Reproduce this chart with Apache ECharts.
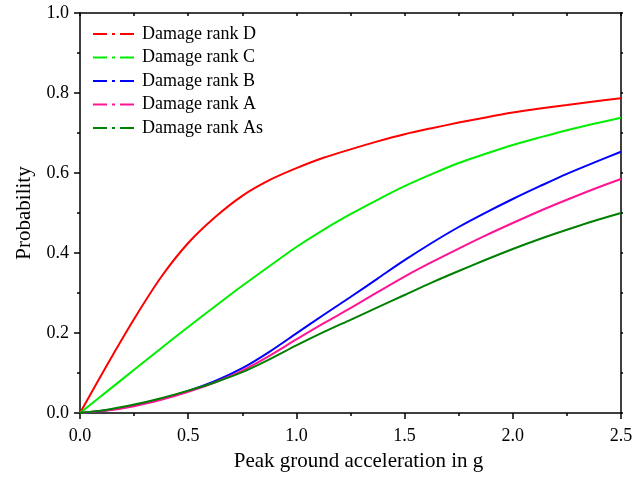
<!DOCTYPE html>
<html>
<head>
<meta charset="utf-8">
<script src="https://cdn.jsdelivr.net/npm/echarts@6/dist/echarts.min.js"></script>
<style>html,body{margin:0;padding:0;background:#fff;}#c{width:644px;height:477px;}</style>
</head>
<body>
<div id="c"></div>
<script>
var xValues = [0, 0.125, 0.25, 0.375, 0.5, 0.625, 0.75, 0.875, 1.0, 1.125, 1.25, 1.375, 1.5, 1.625, 1.75, 1.875, 2.0, 2.125, 2.25, 2.375, 2.5];
var seriesNames = ['Damage rank D', 'Damage rank C', 'Damage rank B', 'Damage rank A', 'Damage rank As'];
var rankD  = [0, 0.12, 0.235, 0.34, 0.425, 0.49, 0.543, 0.582, 0.612, 0.638, 0.659, 0.679, 0.697, 0.712, 0.726, 0.739, 0.751, 0.761, 0.77, 0.779, 0.787];
var rankC  = [0, 0.054, 0.108, 0.162, 0.215, 0.267, 0.318, 0.367, 0.415, 0.458, 0.497, 0.533, 0.567, 0.597, 0.625, 0.648, 0.67, 0.689, 0.707, 0.723, 0.738];
var rankB  = [0, 0.007, 0.019, 0.035, 0.055, 0.08, 0.112, 0.153, 0.199, 0.245, 0.29, 0.336, 0.382, 0.425, 0.465, 0.501, 0.535, 0.567, 0.598, 0.626, 0.653];
var rankA  = [0, 0.006, 0.017, 0.033, 0.053, 0.077, 0.106, 0.143, 0.184, 0.224, 0.262, 0.302, 0.341, 0.377, 0.411, 0.444, 0.475, 0.505, 0.533, 0.56, 0.585];
var rankAs = [0, 0.008, 0.021, 0.037, 0.056, 0.077, 0.102, 0.134, 0.169, 0.202, 0.233, 0.264, 0.295, 0.326, 0.355, 0.383, 0.41, 0.435, 0.458, 0.48, 0.5];
var colors = ['#ff0000', '#00ee00', '#0000ff', '#ff1493', '#008000'];
var allData = [rankD, rankC, rankB, rankA, rankAs];

var font = 'Liberation Serif';
var chart = echarts.init(document.getElementById('c'));
var series = allData.map(function (vals, i) {
  return {
    name: seriesNames[i],
    type: 'line',
    xAxisIndex: 0, yAxisIndex: 0,
    data: xValues.map(function (x, j) { return [x, vals[j]]; }),
    smooth: 0.3,
    symbol: 'none',
    color: colors[i],
    lineStyle: { width: 2, color: colors[i] }
  };
});
var option = {
  animation: false,
  backgroundColor: '#fff',
  grid: { left: 80, right: 23, top: 13, bottom: 64, containLabel: false },
  legend: {
    left: 87, top: 20, orient: 'vertical',
    itemWidth: 44, itemHeight: 10, itemGap: 5.5,
    textStyle: { fontFamily: font, fontSize: 18, color: '#000' },
    data: seriesNames.map(function (n, i) {
      return {
        name: n,
        itemStyle: { opacity: 0 },
        lineStyle: { type: [14, 5, 3, 5], width: 2, color: colors[i], opacity: 1 }
      };
    })
  },
  xAxis: [{
    type: 'value', min: 0, max: 2.5, interval: 0.5,
    name: 'Peak ground acceleration in g', nameLocation: 'middle', nameGap: 38,
    nameTextStyle: { fontFamily: font, fontSize: 21, color: '#000', padding: [0, 0, 0, 16] },
    axisLine: { onZero: false, lineStyle: { color: '#000', width: 1.5 } },
    axisTick: { inside: false, length: 6, lineStyle: { color: '#000', width: 1.5 } },
    minorTick: { show: true, splitNumber: 2, length: 3, lineStyle: { color: '#000', width: 1.5 } },
    axisLabel: { fontFamily: font, fontSize: 18, color: '#000', margin: 14, formatter: function (v) { return v.toFixed(1); } },
    splitLine: { show: false }
  }, {
    type: 'value', min: 0, max: 2.5, interval: 0.25, position: 'top',
    axisLine: { onZero: false, lineStyle: { color: '#000', width: 1.5 } },
    axisTick: { inside: true, length: 3, lineStyle: { color: '#000', width: 1.5 } },
    axisLabel: { show: false }, splitLine: { show: false }
  }],
  yAxis: [{
    type: 'value', min: 0, max: 1.0, interval: 0.2,
    name: 'Probability', nameLocation: 'middle', nameGap: 45,
    nameTextStyle: { fontFamily: font, fontSize: 21, color: '#000' },
    axisLine: { onZero: false, lineStyle: { color: '#000', width: 1.5 } },
    axisTick: { inside: false, length: 6, lineStyle: { color: '#000', width: 1.5 } },
    minorTick: { show: true, splitNumber: 2, length: 3, lineStyle: { color: '#000', width: 1.5 } },
    axisLabel: { fontFamily: font, fontSize: 18, color: '#000', margin: 11, formatter: function (v) { return v.toFixed(1); } },
    splitLine: { show: false }
  }, {
    type: 'value', min: 0, max: 1.0, interval: 0.1, position: 'right',
    axisLine: { onZero: false, lineStyle: { color: '#000', width: 1.5 } },
    axisTick: { inside: false, length: 2, lineStyle: { color: '#000', width: 1.5 } },
    axisLabel: { show: false }, splitLine: { show: false }
  }],
  series: series
};
chart.setOption(option);
</script>
</body>
</html>
